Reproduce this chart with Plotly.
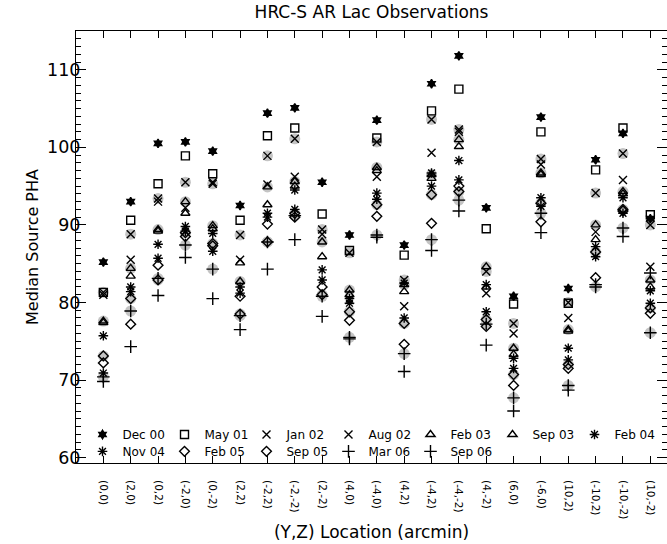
import plotly.graph_objects as go

locations = ["(0,0)", "(2,0)", "(0,2)", "(-2,0)", "(0,-2)", "(2,2)", "(-2,2)", "(-2,-2)", "(2,-2)",
             "(4,0)", "(-4,0)", "(4,2)", "(-4,2)", "(-4,-2)", "(4,-2)", "(6,0)", "(-6,0)", "(10,2)",
             "(-10,2)", "(-10,-2)", "(10,-2)"]

dec00 = [85.2, 93.0, 100.5, 100.7, 99.5, 92.5, 104.4, 105.1, 95.5, 88.7, 103.5, 87.4, 108.2, 111.8, 92.2, 80.8, 103.9, 81.8, 98.4, 101.8, 90.8]
may01 = [81.3, 90.6, 95.3, 98.9, 96.6, 90.6, 101.5, 102.5, 91.4, 86.7, 101.2, 86.1, 104.7, 107.5, 89.5, 79.8, 102.0, 79.9, 97.1, 102.5, 91.3]
jan02 = [81.3, 88.8, 93.4, 95.5, 95.3, 88.7, 98.9, 101.1, 89.4, 86.4, 100.7, 82.9, 103.6, 102.3, 84.0, 77.3, 98.5, 80.0, 94.1, 99.2, 90.0]
aug02 = [81.0, 85.5, 93.0, 92.2, 95.5, 85.5, 95.2, 96.2, 88.8, 80.3, 96.2, 79.5, 99.3, 102.0, 81.2, 76.0, 97.8, 78.0, 89.1, 95.8, 84.6]
feb03 = [77.6, 84.4, 89.4, 93.0, 89.9, 82.7, 94.9, 95.6, 87.8, 81.6, 97.4, 82.3, 96.5, 101.0, 84.6, 74.1, 96.7, 76.5, 90.0, 94.3, 82.9]
sep03 = [77.4, 83.4, 89.2, 91.5, 89.5, 85.1, 92.6, 95.0, 85.9, 81.0, 97.0, 81.4, 96.0, 100.1, 82.0, 73.3, 96.5, 76.3, 88.1, 94.0, 82.0]
feb04 = [75.7, 82.0, 87.5, 89.8, 88.9, 82.0, 91.5, 94.5, 84.2, 80.5, 94.1, 82.5, 96.7, 98.3, 82.3, 72.8, 93.5, 74.1, 87.2, 93.5, 81.5]
nov04 = [70.9, 81.4, 85.7, 89.2, 86.6, 81.2, 91.0, 92.0, 82.9, 79.9, 93.3, 78.0, 95.0, 95.8, 78.8, 71.5, 92.4, 72.6, 85.9, 91.5, 79.9]
feb05 = [73.1, 80.5, 82.9, 89.0, 87.6, 78.5, 87.8, 91.5, 81.0, 78.8, 92.6, 77.3, 93.9, 94.3, 77.8, 70.7, 92.8, 72.0, 86.5, 92.0, 79.3]
sep05 = [72.2, 77.2, 84.8, 88.5, 87.3, 80.8, 90.1, 91.0, 82.0, 77.7, 91.1, 74.6, 90.2, 95.0, 76.9, 69.3, 90.4, 71.5, 83.2, 91.8, 78.6]
mar06 = [70.4, 78.9, 83.1, 87.4, 84.3, 78.3, 87.8, 91.2, 80.8, 75.5, 88.7, 73.4, 88.1, 93.2, 77.2, 67.7, 91.5, 69.3, 82.0, 89.6, 76.1]
sep06 = [69.8, 74.3, 80.9, 85.8, 80.5, 76.5, 84.3, 88.1, 78.2, 75.3, 88.4, 71.1, 86.7, 91.8, 74.5, 66.0, 89.0, 68.7, 82.3, 88.5, 83.8]

# name, values, symbol, size, gray halo, legend row
series = [
    ("Dec 00", dec00, "hexagram", 6.5, False, "legend"),
    ("May 01", may01, "square-open", 8, False, "legend"),
    ("Jan 02", jan02, "x-thin-open", 8, True, "legend"),
    ("Aug 02", aug02, "x-thin-open", 8, False, "legend"),
    ("Feb 03", feb03, "triangle-up-open", 8, True, "legend"),
    ("Sep 03", sep03, "triangle-up-open", 8, False, "legend"),
    ("Feb 04", feb04, "asterisk-open", 8, False, "legend"),
    ("Nov 04", nov04, "asterisk-open", 8, False, "legend2"),
    ("Feb 05", feb05, "diamond-open", 7.5, True, "legend2"),
    ("Sep 05", sep05, "diamond-open", 7.5, False, "legend2"),
    ("Mar 06", mar06, "cross-thin-open", 9, True, "legend2"),
    ("Sep 06", sep06, "cross-thin-open", 9, False, "legend2"),
]

FONT = "DejaVu Sans"
fig = go.Figure()

# gray halos underneath
for name, vals, sym, size, halo, lg in series:
    if halo:
        fig.add_trace(go.Scatter(x=locations, y=vals, mode="markers", showlegend=False,
                                 hoverinfo="skip",
                                 marker=dict(symbol="circle", size=11, color="#c4c4c4",
                                             line=dict(width=0))))

for name, vals, sym, size, halo, lg in series:
    fig.add_trace(go.Scatter(
        x=locations, y=vals, mode="markers", name=name, legend=lg,
        marker=dict(symbol=sym, size=size, color="black",
                    line=dict(color="black", width=1.4))))

leg_common = dict(orientation="h", x=0.011, xanchor="left", yanchor="middle",
                  bgcolor="rgba(0,0,0,0)", font=dict(size=12), entrywidth=37,
                  entrywidthmode="pixels", itemsizing="trace", tracegroupgap=0)

fig.update_layout(
    width=667, height=544,
    margin=dict(l=76, r=0, t=31, b=81),
    plot_bgcolor="white", paper_bgcolor="white",
    font=dict(family=FONT, color="black"),
    title=dict(text="HRC-S AR Lac Observations", x=0.557, xanchor="center",
               y=0.978, yanchor="middle", font=dict(size=17, family=FONT)),
    showlegend=True,
    legend=dict(y=0.066, **leg_common),
    legend2=dict(y=0.027, **leg_common),
    xaxis=dict(
        type="category", categoryorder="array", categoryarray=locations,
        range=[-1, 20.61], showgrid=False, zeroline=False,
        showline=True, linecolor="black", linewidth=1, mirror="allticks",
        ticks="inside", ticklen=7, tickcolor="black", tickwidth=1,
        tickangle=90, tickfont=dict(size=10.5), ticklabelstandoff=14,
        title=dict(text="(Y,Z) Location (arcmin)", font=dict(size=17), standoff=7),
    ),
    yaxis=dict(
        range=[59.3, 115.0], showgrid=False, zeroline=False,
        showline=True, linecolor="black", linewidth=1, mirror="allticks",
        ticks="inside", ticklen=10, tickcolor="black", tickwidth=1,
        tickvals=[60, 70, 80, 90, 100, 110], tickfont=dict(size=17.5),
        ticklabelstandoff=-9,
        minor=dict(dtick=1, ticks="inside", ticklen=5, tickcolor="black"),
        title=dict(text="Median Source PHA", font=dict(size=16), standoff=4),
    ),
)

fig.write_html("out.html", config={"displayModeBar": False},
               post_script="document.body.style.margin='0';")
